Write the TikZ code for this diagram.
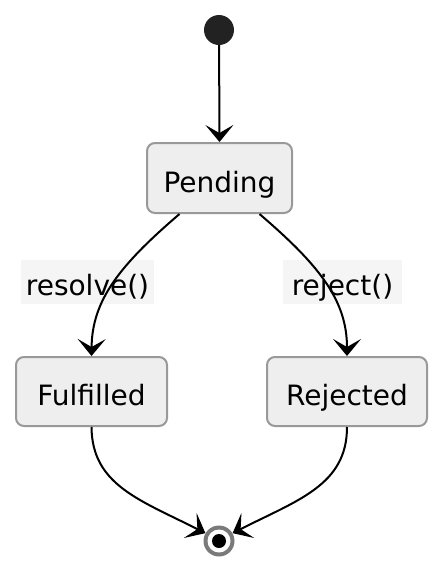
\documentclass[tikz,border=0pt]{standalone}
\usepackage{fontspec}
\setmainfont{DejaVu Sans}
\usetikzlibrary{arrows.meta}
\definecolor{boxfill}{HTML}{EEEEEE}
\definecolor{boxdraw}{HTML}{999999}
\definecolor{lblfill}{HTML}{F5F5F5}
\definecolor{startc}{HTML}{222222}
\definecolor{ringc}{HTML}{7A7A7A}
\begin{document}
\begin{tikzpicture}[x=1pt,y=-1pt,
  state/.style={draw=boxdraw, fill=boxfill, line width=2pt, rounded corners=8pt,
    inner sep=0pt, text height=28pt, text depth=0pt,
    font=\fontsize{28}{32}\selectfont, text=black},
  lbl/.style={fill=lblfill, inner sep=0pt, text height=26pt, text depth=0pt,
    font=\fontsize{28}{32}\selectfont, text=black},
  arr/.style={line width=2pt, -{Stealth[length=17pt, width=28pt, inset=8pt]}}
]
\useasboundingbox (0,0) rectangle (443,571);
\fill[white] (0,0) rectangle (443,571);
% start
\node[circle, fill=startc, minimum size=30pt, inner sep=0pt] (start) at (219,30) {};
% states
\node[state, minimum width=145pt, minimum height=70pt] (pend) at (219.5,178) {Pending};
\node[state, minimum width=151pt, minimum height=69pt] (ful) at (91.5,391.5) {Fulfilled};
\node[state, minimum width=160pt, minimum height=69pt] (rej) at (347,391.5) {Rejected};
% labels
\node[lbl, minimum width=133pt, minimum height=44pt] (lres) at (87.5,282) {resolve()};
\node[lbl, minimum width=119pt, minimum height=44pt] (lrej) at (342.5,282) {reject()};
% end
\node[circle, fill=ringc, minimum size=31pt, inner sep=0pt] (end) at (219,541) {};
\node[circle, fill=white, minimum size=23pt, inner sep=0pt] (endw) at (end) {};
\node[circle, fill=black, minimum size=14pt, inner sep=0pt] (endb) at (end) {};
% connectors
\draw[arr] (start) -- (pend.north);
\draw[arr] ([xshift=-40pt]pend.south) .. controls (120,265) and (92,300) .. (ful.north);
\draw[arr] ([xshift=40pt]pend.south) .. controls (319,265) and (347,300) .. (rej.north);
\draw[arr] (ful.south) .. controls (92,485) and (140,500) .. (end.150);
\draw[arr] (rej.south) .. controls (347,485) and (298,500) .. (end.30);
\end{tikzpicture}
\end{document}
